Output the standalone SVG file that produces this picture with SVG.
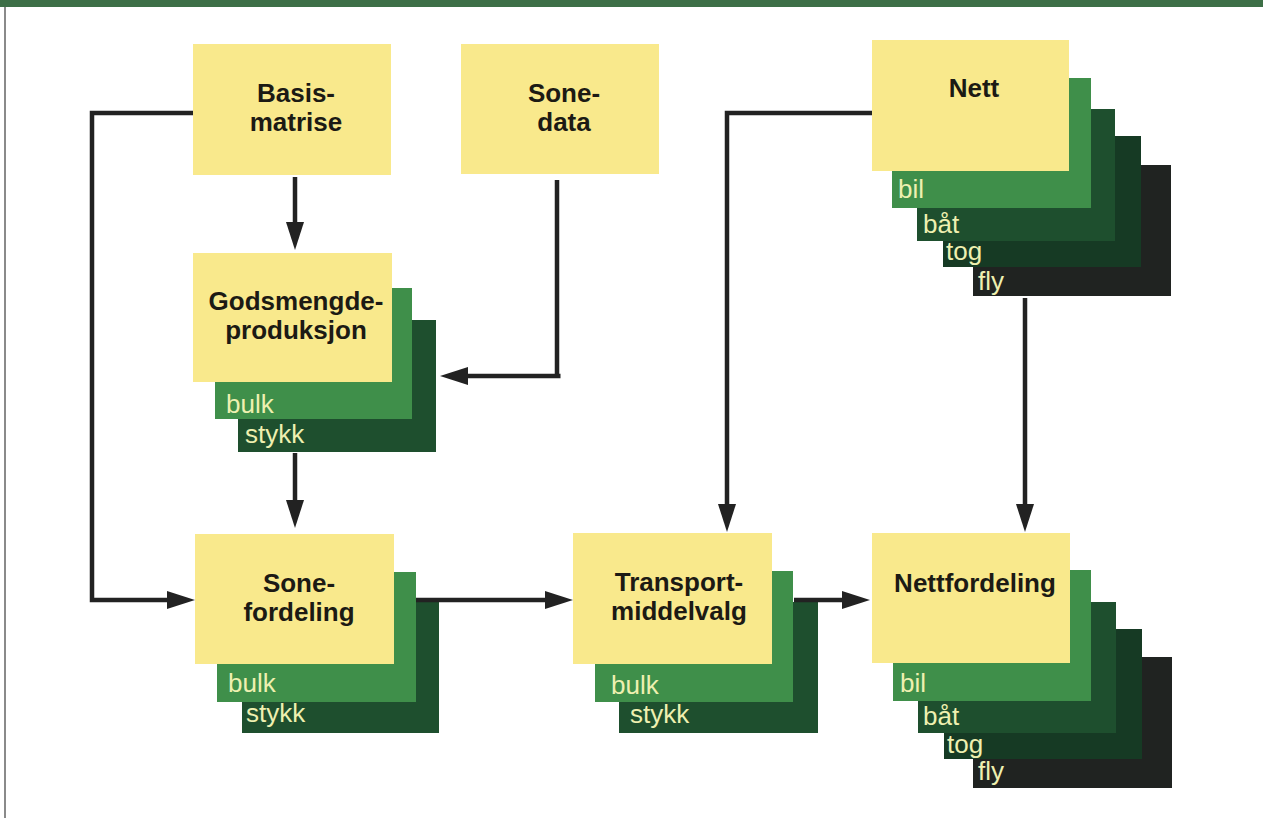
<svg xmlns="http://www.w3.org/2000/svg" width="1263" height="818" viewBox="0 0 1263 818">
<defs>
<style>
.y{fill:#F9E98C}
.g1{fill:#3F8F4A}
.g2{fill:#1E4F2E}
.g3{fill:#163A24}
.g4{fill:#202321}
.t{font-family:"Liberation Sans",Arial,sans-serif;font-weight:bold;font-size:26px;fill:#1c1a14;text-anchor:middle}
.l{font-family:"Liberation Sans",Arial,sans-serif;font-size:26px;fill:#EEF0B0}
.c{fill:none;stroke:#222;stroke-width:4.5;stroke-linejoin:miter}
</style>
<marker id="ah" markerUnits="userSpaceOnUse" markerWidth="28" markerHeight="18" refX="3" refY="9" orient="auto" viewBox="0 0 28 18">
<path d="M0,0 L28,9 L0,18 z" fill="#222"/>
</marker>
</defs>
<rect x="0" y="0" width="1263" height="818" fill="#ffffff"/>
<rect x="0" y="0" width="1263" height="7" fill="#3d6f47"/>
<rect x="4" y="7" width="2" height="811" fill="#8a8a8a"/>

<g id="basismatrise">
<rect class="y" x="193" y="44" width="198" height="131"/>
<text class="t" x="296" y="102">Basis-</text>
<text class="t" x="296" y="131">matrise</text>
</g>

<g id="sonedata">
<rect class="y" x="461" y="44" width="198" height="130"/>
<text class="t" x="564" y="102">Sone-</text>
<text class="t" x="564" y="131">data</text>
</g>

<g id="godsmengde">
<rect class="g2" x="238" y="320" width="198" height="132"/>
<rect class="g1" x="215" y="288" width="197" height="131"/>
<rect class="y" x="193" y="253" width="199" height="129"/>
<text class="t" x="296" y="310">Godsmengde-</text>
<text class="t" x="296" y="339">produksjon</text>
<text class="l" x="226" y="413">bulk</text>
<text class="l" x="245" y="443">stykk</text>
</g>

<g id="sonefordeling">
<rect class="g2" x="242" y="602" width="197" height="131"/>
<rect class="g1" x="217" y="572" width="199" height="130"/>
<rect class="y" x="195" y="534" width="199" height="130"/>
<text class="t" x="299" y="592">Sone-</text>
<text class="t" x="299" y="621">fordeling</text>
<text class="l" x="228" y="692">bulk</text>
<text class="l" x="246" y="722">stykk</text>
</g>

<g id="transportmiddelvalg">
<rect class="g2" x="619" y="602" width="199" height="131"/>
<rect class="g1" x="595" y="571" width="198" height="131"/>
<rect class="y" x="573" y="533" width="199" height="131"/>
<text class="t" x="679" y="591">Transport-</text>
<text class="t" x="679" y="620">middelvalg</text>
<text class="l" x="611" y="694">bulk</text>
<text class="l" x="630" y="723">stykk</text>
</g>

<g id="nett">
<rect class="g4" x="973" y="165" width="198" height="131"/>
<rect class="g3" x="943" y="136" width="198" height="131"/>
<rect class="g2" x="917" y="109" width="198" height="132"/>
<rect class="g1" x="892" y="78" width="199" height="130"/>
<rect class="y" x="872" y="40" width="197" height="131"/>
<text class="t" x="974" y="97">Nett</text>
<text class="l" x="898" y="198">bil</text>
<text class="l" x="923" y="233">båt</text>
<text class="l" x="946" y="260">tog</text>
<text class="l" x="978" y="290">fly</text>
</g>

<g id="nettfordeling">
<rect class="g4" x="973" y="657" width="199" height="131"/>
<rect class="g3" x="944" y="629" width="198" height="130"/>
<rect class="g2" x="918" y="602" width="198" height="131"/>
<rect class="g1" x="893" y="570" width="198" height="131"/>
<rect class="y" x="872" y="533" width="198" height="130"/>
<text class="t" x="975" y="592">Nettfordeling</text>
<text class="l" x="900" y="692">bil</text>
<text class="l" x="923" y="725">båt</text>
<text class="l" x="947" y="753">tog</text>
<text class="l" x="978" y="780">fly</text>
</g>

<g id="connectors">
<path class="c" d="M193,113 H92 V600 H170" stroke-width="5" marker-end="url(#ah)"/>
<path class="c" d="M295,177 V225" marker-end="url(#ah)"/>
<path class="c" d="M557,180 V376" stroke-width="7"/>
<path class="c" d="M560.5,376 H465" stroke-width="5" marker-end="url(#ah)"/>
<path class="c" d="M295,453 V503" marker-end="url(#ah)"/>
<path class="c" d="M416,600 H548" marker-end="url(#ah)"/>
<path class="c" d="M794,600 H845" marker-end="url(#ah)"/>
<path class="c" d="M872,113 H727 V507" stroke-width="4" marker-end="url(#ah)"/>
<path class="c" d="M1025,298 V507" stroke-width="4" marker-end="url(#ah)"/>
</g>
</svg>
